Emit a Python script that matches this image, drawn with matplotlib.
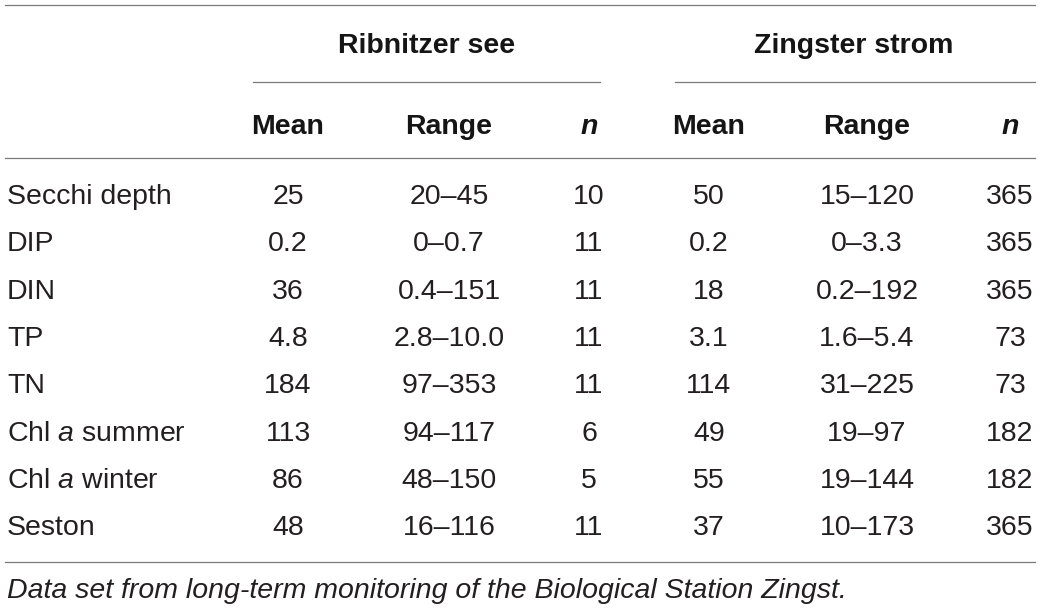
import matplotlib
matplotlib.use("Agg")
import matplotlib.pyplot as plt

plt.rcParams['font.family'] = ['Liberation Sans', 'DejaVu Sans']
plt.rcParams['mathtext.fontset'] = 'custom'
plt.rcParams['mathtext.it'] = 'Liberation Sans:italic'
plt.rcParams['mathtext.rm'] = 'Liberation Sans'

# ---- data ----
groups = ["Ribnitzer see", "Zingster strom"]
col_headers = ["Mean", "Range", "n"]
params = ["Secchi depth", "DIP", "DIN", "TP", "TN",
          "Chl $a$ summer", "Chl $a$ winter", "Seston"]
rib_mean = ["25", "0.2", "36", "4.8", "184", "113", "86", "48"]
rib_range = ["20–45", "0–0.7", "0.4–151", "2.8–10.0", "97–353", "94–117", "48–150", "16–116"]
rib_n = ["10", "11", "11", "11", "11", "6", "5", "11"]
zin_mean = ["50", "0.2", "18", "3.1", "114", "49", "55", "37"]
zin_range = ["15–120", "0–3.3", "0.2–192", "1.6–5.4", "31–225", "19–97", "19–144", "10–173"]
zin_n = ["365", "365", "365", "73", "73", "182", "182", "365"]
footnote = "Data set from long-term monitoring of the Biological Station Zingst."

# ---- layout ----
W, H = 1040, 609
fig = plt.figure(figsize=(W / 100, H / 100), dpi=100)
ax = fig.add_axes([0, 0, 1, 1])
ax.set_xlim(0, W)
ax.set_ylim(H, 0)
ax.axis('off')

txt = '#231f20'
line_c = '#7a7a7a'
fs = 20.5
cap = 0.716 * fs * 100 / 72  # cap height in px

def put(x, yc, s, ha='center', size=fs, color=txt, **kw):
    ax.text(x, yc + 0.716 * size * 100 / 72 / 2, s, ha=ha, va='baseline',
            fontsize=size, color=color, **kw)

# lines
lw = 0.9
ax.plot([5, 1035], [4.5, 4.5], color=line_c, lw=lw)
ax.plot([253, 600], [82, 82], color=line_c, lw=lw)
ax.plot([675, 1035], [82, 82], color=line_c, lw=lw)
ax.plot([5, 1035], [158, 158], color=line_c, lw=lw)
ax.plot([5, 1035], [561.5, 561.5], color=line_c, lw=lw)

# group headers
bold_c = '#151515'
group_x = [427, 854]
for gx, g in zip(group_x, groups):
    put(gx, 43, g, fontweight='bold', color=bold_c)

# column headers
col_x = [[288, 449, 589], [709, 867, 1010]]
for cols in col_x:
    for cx, h in zip(cols, col_headers):
        if h == "n":
            put(cx, 124, h, fontweight='bold', fontstyle='italic', color=bold_c)
        else:
            put(cx, 124, h, fontweight='bold', color=bold_c)

# rows
row_y0, row_dy = 194, 47.3
for i, p in enumerate(params):
    y = row_y0 + i * row_dy
    put(7, y, p, ha='left')
    for cx, v in zip(col_x[0], [rib_mean[i], rib_range[i], rib_n[i]]):
        put(cx, y, v)
    for cx, v in zip(col_x[1], [zin_mean[i], zin_range[i], zin_n[i]]):
        put(cx, y, v)

put(7, 588, footnote, ha='left', fontstyle='italic')

fig.savefig("out.png", dpi=100, facecolor='white')
